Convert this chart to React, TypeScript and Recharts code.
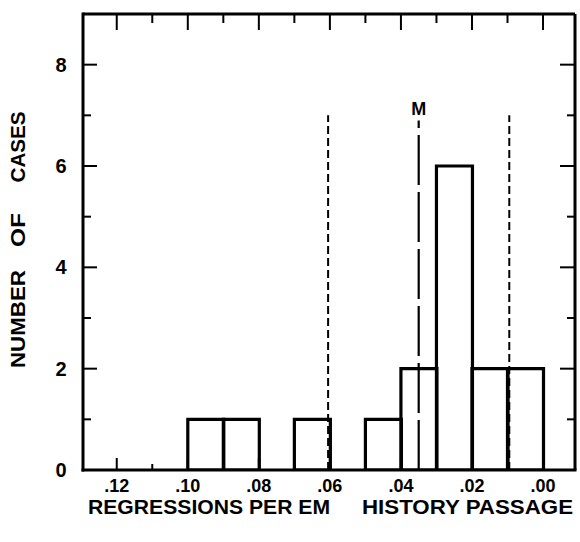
import React from 'react';
import { ComposedChart, Bar, XAxis, YAxis, ReferenceLine } from 'recharts';

// histogram bins are 0.01 wide, keyed by their centre
const binCenters = [0.095, 0.085, 0.075, 0.065, 0.055, 0.045, 0.035, 0.025, 0.015, 0.005];
const caseCounts = [1, 1, 0, 1, 0, 1, 2, 6, 2, 2];

const xTicks = [0.12, 0.11, 0.1, 0.09, 0.08, 0.07, 0.06, 0.05, 0.04, 0.03, 0.02, 0.01, 0.0];
const yTicks = [0, 1, 2, 3, 4, 5, 6, 7, 8];

// mean and +/- one s.d. markers
const meanValue = 0.035;
const sdLow = 0.0095;
const sdHigh = 0.0605;

const data = binCenters.map((x, i) => ({ x, count: caseCounts[i] }));

const FONT = '"Liberation Sans", Arial, sans-serif';
const INK = '#000';

const W = 580;
const H = 542;
const margin = { top: 14, right: 5, bottom: 0, left: 0 };
const X_AXIS_H = 72;
const Y_AXIS_W = 83;
const xDomain: [number, number] = [-0.009, 0.1295];
const yDomain: [number, number] = [0, 9];

// plot box, for the tick marks mirrored on the top and right edges
const plotLeft = margin.left + Y_AXIS_W;
const plotRight = W - margin.right;
const plotTop = margin.top;
const plotBottom = H - margin.bottom - X_AXIS_H;
const px = (v: number) => plotLeft + ((xDomain[1] - v) / (xDomain[1] - xDomain[0])) * (plotRight - plotLeft);
const py = (v: number) => plotBottom - ((v - yDomain[0]) / (yDomain[1] - yDomain[0])) * (plotBottom - plotTop);

const fmtX = (v: number) => '.' + String(Math.round(v * 100)).padStart(2, '0');
const isMajorX = (v: number) => Math.round(v * 100) % 2 === 0;

const BottomTick = (props: any) => {
  const { x, y, payload } = props;
  const major = isMajorX(payload.value);
  return (
    <g>
      <line x1={x} x2={x} y1={y} y2={y - (major ? 12 : 6)} stroke={INK} strokeWidth={2} />
      {major && (
        <text x={x} y={y + 22} textAnchor="middle" fontFamily={FONT} fontWeight="bold" fontSize={18} fill={INK}>
          {fmtX(payload.value)}
        </text>
      )}
    </g>
  );
};

const LeftTick = (props: any) => {
  const { x, y, payload } = props;
  const major = payload.value % 2 === 0;
  return (
    <g>
      <line x1={x} x2={x + (major ? 14 : 8)} y1={y} y2={y} stroke={INK} strokeWidth={2} />
      {major && (
        <text x={x - 22} y={y + 7} textAnchor="middle" fontFamily={FONT} fontWeight="bold" fontSize={20} fill={INK}>
          {payload.value}
        </text>
      )}
    </g>
  );
};

const axisLine = { stroke: INK, strokeWidth: 3, strokeLinecap: 'square' as const };

export default function App() {
  const titleStyle = {
    fontFamily: FONT,
    fontWeight: 'bold' as const,
    fontSize: 20,
    fill: INK,
    lengthAdjust: 'spacingAndGlyphs',
  };
  return (
    <div style={{ position: 'absolute', left: 0, top: 0, width: W, height: H, background: '#fff' }}>
      <ComposedChart width={W} height={H} data={data} margin={margin} barCategoryGap={0} barGap={0}>
        <XAxis
          dataKey="x"
          type="number"
          domain={xDomain}
          reversed
          allowDataOverflow
          ticks={xTicks}
          interval={0}
          height={X_AXIS_H}
          tickSize={0}
          tickMargin={0}
          tickLine={false}
          axisLine={axisLine}
          tick={<BottomTick />}
        />
        <YAxis
          type="number"
          domain={yDomain}
          allowDataOverflow
          ticks={yTicks}
          interval={0}
          width={Y_AXIS_W}
          tickSize={0}
          tickMargin={0}
          tickLine={false}
          axisLine={axisLine}
          tick={<LeftTick />}
        />
        <Bar dataKey="count" fill="none" stroke={INK} strokeWidth={3.2} isAnimationActive={false} />
        {/* top and right sides of the frame */}
        <ReferenceLine y={yDomain[1]} ifOverflow="visible" stroke={INK} strokeWidth={3} />
        <ReferenceLine x={xDomain[0]} ifOverflow="visible" stroke={INK} strokeWidth={3} />
        <ReferenceLine
          segment={[{ x: sdHigh, y: 0 }, { x: sdHigh, y: 7 }]}
          stroke={INK}
          strokeWidth={2}
          strokeDasharray="8 4"
        />
        <ReferenceLine
          segment={[{ x: sdLow, y: 0 }, { x: sdLow, y: 7 }]}
          stroke={INK}
          strokeWidth={2}
          strokeDasharray="8 4"
        />
        <ReferenceLine
          segment={[{ x: meanValue, y: 0 }, { x: meanValue, y: 6.9 }]}
          stroke={INK}
          strokeWidth={2.2}
          strokeDasharray="50 7"
          label={{ value: 'M', position: 'top', offset: 5, fill: INK, fontSize: 18, fontWeight: 'bold', fontFamily: FONT }}
        />
      </ComposedChart>
      <svg width={W} height={H} style={{ position: 'absolute', left: 0, top: 0, pointerEvents: 'none' }}>
        {xTicks.map((t) => (
          <line
            key={`top-${t}`}
            x1={px(t)}
            x2={px(t)}
            y1={plotTop}
            y2={plotTop + (isMajorX(t) ? 16 : 9)}
            stroke={INK}
            strokeWidth={2}
          />
        ))}
        {yTicks.filter((t) => t > 0).map((t) => (
          <line
            key={`right-${t}`}
            x1={plotRight}
            x2={plotRight - (t % 2 === 0 ? 15 : 8)}
            y1={py(t)}
            y2={py(t)}
            stroke={INK}
            strokeWidth={2}
          />
        ))}
        <text x={88} y={514} textLength={242} {...titleStyle}>REGRESSIONS PER EM</text>
        <text x={362} y={514} textLength={211} {...titleStyle}>HISTORY PASSAGE</text>
        <text x={25} y={319} transform="rotate(-90 25 319)" textAnchor="middle" textLength={98} {...titleStyle}>NUMBER</text>
        <text x={25} y={230} transform="rotate(-90 25 230)" textAnchor="middle" textLength={34} {...titleStyle}>OF</text>
        <text x={25} y={147} transform="rotate(-90 25 147)" textAnchor="middle" textLength={71} {...titleStyle}>CASES</text>
      </svg>
    </div>
  );
}
